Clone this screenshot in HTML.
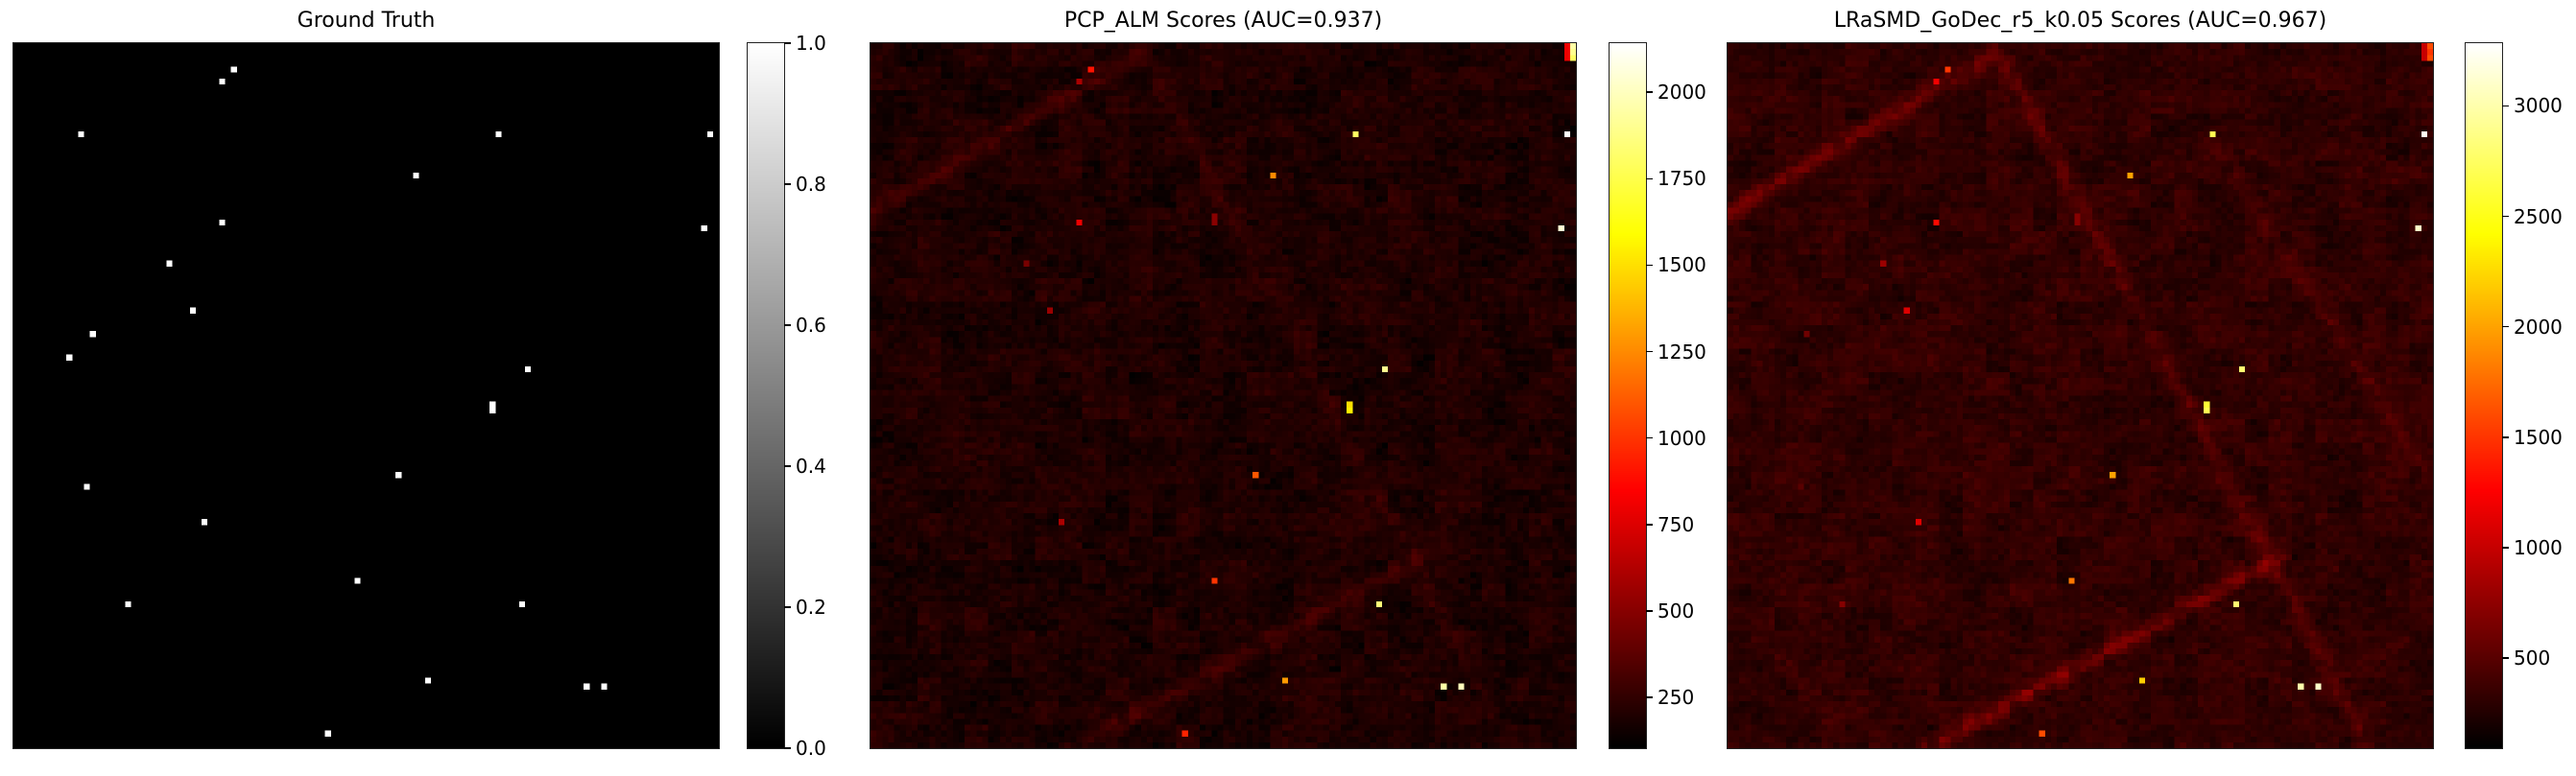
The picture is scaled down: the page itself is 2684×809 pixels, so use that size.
<!DOCTYPE html>
<html><head><meta charset="utf-8">
<style>
html,body{margin:0;padding:0;background:#fff;}
body{width:2684px;height:809px;position:relative;overflow:hidden;font-family:"DejaVu Sans","Liberation Sans",sans-serif;color:#000;}
.title{position:absolute;top:9px;font-size:22px;text-align:center;white-space:nowrap;}
canvas.hm{position:absolute;top:45px;width:735px;height:735px;image-rendering:pixelated;outline:1.5px solid #222;}
canvas.cb{position:absolute;top:45px;width:38px;height:735px;outline:1.5px solid #222;}
.tick{position:absolute;width:7px;height:1.5px;background:#000;}
.tl{position:absolute;font-size:20px;line-height:20px;}
</style></head><body>
<div class="title" style="left:14px;width:735px">Ground Truth</div>
<div class="title" style="left:907px;width:735px">PCP_ALM Scores (AUC=0.937)</div>
<div class="title" style="left:1800px;width:735px">LRaSMD_GoDec_r5_k0.05 Scores (AUC=0.967)</div>
<canvas id="h1" class="hm" width="120" height="120" style="left:14px"></canvas>
<canvas id="h2" class="hm" width="120" height="120" style="left:907px"></canvas>
<canvas id="h3" class="hm" width="120" height="120" style="left:1800px"></canvas>
<canvas id="c1" class="cb" width="1" height="256" style="left:779px"></canvas>
<canvas id="c2" class="cb" width="1" height="256" style="left:1677px"></canvas>
<canvas id="c3" class="cb" width="1" height="256" style="left:2569px"></canvas>
<script>
// ---- data ----
const gridSize = 120;
const truthX = [37,35,11,82,118,68,35,117,26,30,13,9,87,81,81,65,12,32,58,19,86,70,97,100,53];
const truthY = [4,6,15,15,15,22,30,31,37,45,49,53,55,61,62,73,75,81,91,95,95,108,109,109,117];
// PCP_ALM anomalies
const pcpX = [37,35,82,118,68,35,58,58,117,26,30,87,81,81,65,32,58,86,70,97,100,53,118,118,118,119,119,119];
const pcpY = [4,6,15,15,22,30,29,30,31,37,45,55,61,62,73,81,91,95,108,109,109,117,0,1,2,0,1,2];
const pcpV = [900,600,1800,2140,1250,800,500,500,2050,450,550,1900,1500,1550,1100,600,1000,1850,1300,1950,2000,950,800,800,800,1950,1900,1800];
// LRaSMD anomalies
const lrX = [37,35,82,118,68,35,59,59,117,26,30,13,87,81,81,65,12,32,58,19,86,70,97,100,53,118,118,118,119,119,119];
const lrY = [4,6,15,15,22,30,29,30,31,37,45,49,55,61,62,73,75,81,91,95,95,108,109,109,117,0,1,2,0,1,2];
const lrV = [1500,1200,2700,3250,2000,1300,700,700,3100,800,1100,600,2800,2600,2700,2000,500,1100,1800,700,2800,2200,3000,3100,1600,1000,1000,1000,1600,1500,1600];
// streaks: x0,y0,x1,y1 in grid cells; amplitude per panel
const streakX0 = [0,46,34,85];
const streakY0 = [29,1,120,20];
const streakX1 = [45,109,93,120];
const streakY1 = [2,119,88,75];
const pcpStreakAmp = [80,45,80,25];
const lrStreakAmp = [260,160,260,110];
const pcpBase = 185, lrBase = 300;
const pcpRange = [103,2142], lrRange = [92,3284];
const pcpTicks = [250,500,750,1000,1250,1500,1750,2000];
const lrTicks = [500,1000,1500,2000,2500,3000];
const truthTicks = [0.0,0.2,0.4,0.6,0.8,1.0];

// ---- helpers ----
function hot(t){t=Math.max(0,Math.min(1,t));
 const r=Math.min(1,t/0.365),g=Math.max(0,Math.min(1,(t-0.365)/0.365)),b=Math.max(0,Math.min(1,(t-0.73)/0.27));
 return [Math.round(r*255),Math.round(g*255),Math.round(b*255)];}
function hash(i,j,s){let h=(i*374761393+j*668265263+s*982451653)|0;h=(h^(h>>>13))*1274126177|0;h=h^(h>>>16);return ((h>>>0)%10000)/10000;}
function segDist(px,py,x0,y0,x1,y1){const dx=x1-x0,dy=y1-y0;let t=((px-x0)*dx+(py-y0)*dy)/(dx*dx+dy*dy);t=Math.max(0,Math.min(1,t));const qx=x0+t*dx-px,qy=y0+t*dy-py;return Math.sqrt(qx*qx+qy*qy);}
function drawScore(id,base,amps,xs,ys,vs,range,seed){
 const c=document.getElementById(id),ctx=c.getContext('2d'),img=ctx.createImageData(gridSize,gridSize);
 const vals=[];
 for(let y=0;y<gridSize;y++)for(let x=0;x<gridSize;x++){
  const coarse=hash(x>>2,y>>2,seed+3), mid=hash(x>>1,y,seed+5), fine=hash(x,y,seed);
  let v=base*(0.55+0.35*coarse+0.3*mid+0.3*fine);
  for(let k=0;k<streakX0.length;k++){const d=segDist(x+0.5,y+0.5,streakX0[k],streakY0[k],streakX1[k],streakY1[k]);v+=amps[k]*Math.exp(-d*d/2.2)*(0.5+1.0*hash(x>>1,y>>1,seed+k+7));}
  vals[y*gridSize+x]=v;}
 for(let i=0;i<xs.length;i++)vals[ys[i]*gridSize+xs[i]]=vs[i];
 for(let p=0;p<gridSize*gridSize;p++){const col=hot((vals[p]-range[0])/(range[1]-range[0]));img.data[p*4]=col[0];img.data[p*4+1]=col[1];img.data[p*4+2]=col[2];img.data[p*4+3]=255;}
 ctx.putImageData(img,0,0);}
function drawTruth(){const c=document.getElementById('h1'),ctx=c.getContext('2d');ctx.fillStyle='#000';ctx.fillRect(0,0,gridSize,gridSize);ctx.fillStyle='#fff';for(let i=0;i<truthX.length;i++)ctx.fillRect(truthX[i],truthY[i],1,1);}
function drawBar(id,gray){const c=document.getElementById(id),ctx=c.getContext('2d');for(let i=0;i<256;i++){const t=1-i/255;const col=gray?[t*255,t*255,t*255]:hot(t);ctx.fillStyle='rgb('+col.map(Math.round).join(',')+')';ctx.fillRect(0,i,1,1);}}
function ticks(left,ticksArr,range,prefix,fmt){
 for(const v of ticksArr){const y=45+735*(1-(v-range[0])/(range[1]-range[0]));
  const t=document.createElement('div');t.className='tick';t.style.left=left+'px';t.style.top=(y-0.75)+'px';
  
  
  document.body.appendChild(t);
  const l=document.createElement('div');l.className='tl';l.style.left=(left+12)+'px';l.style.top=(y-10)+'px';l.textContent=fmt(v);
  
  
  document.body.appendChild(l);}}
drawTruth();
drawScore('h2',pcpBase,pcpStreakAmp,pcpX,pcpY,pcpV,pcpRange,11);
drawScore('h3',lrBase,lrStreakAmp,lrX,lrY,lrV,lrRange,29);
drawBar('c1',true);drawBar('c2',false);drawBar('c3',false);
ticks(817,truthTicks,[0,1],'truth-colorbar',v=>v.toFixed(1));
ticks(1715,pcpTicks,pcpRange,'pcp-colorbar',v=>String(v));
ticks(2607,lrTicks,lrRange,'lrasmd-colorbar',v=>String(v));
</script>
</body></html>
